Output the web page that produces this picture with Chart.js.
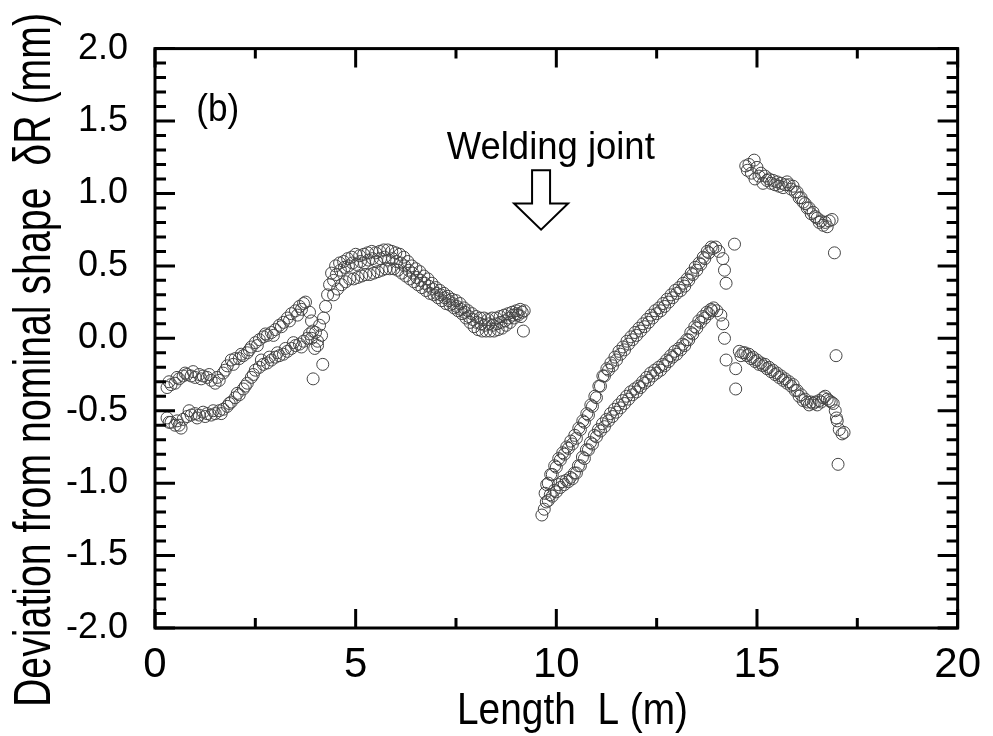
<!DOCTYPE html>
<html>
<head>
<meta charset="utf-8">
<script src="https://cdn.jsdelivr.net/npm/chart.js@4.4.1/dist/chart.umd.min.js"></script>
<style>
  html, body { margin: 0; padding: 0; background: #fff; }
  #wrap { width: 993px; height: 736px; }
</style>
</head>
<body>
<div id="wrap"><canvas id="my-chart" width="993" height="736"></canvas></div>
<script>
'use strict';

// [L (m), deviation (mm)], one list per pass
const beforeWeldUpper = [
  [0.3,-0.34],[0.4,-0.32],[0.5,-0.31],[0.6,-0.28],[0.7,-0.26],[0.8,-0.25],[0.9,-0.26],
  [1.0,-0.27],[1.1,-0.25],[1.2,-0.26],[1.3,-0.27],[1.4,-0.29],[1.5,-0.31],[1.6,-0.29],
  [1.7,-0.24],[1.8,-0.19],[1.9,-0.15],[2.0,-0.14],[2.1,-0.14],[2.2,-0.12],[2.3,-0.10],
  [2.4,-0.06],[2.5,-0.03],[2.6,-0.01],[2.7,0.01],[2.8,0.02],[2.9,0.04],[3.0,0.06],
  [3.1,0.09],[3.2,0.11],[3.3,0.14],[3.4,0.17],[3.5,0.19],[3.6,0.22],[3.7,0.24],[3.75,0.25],
  [3.85,0.18],[3.9,0.12],[3.93,0.05],[3.98,-0.07],[4.05,-0.02],[4.18,-0.18],[3.94,-0.28]
];
const beforeWeldUpper2 = [
  [0.35,-0.30],[0.55,-0.27],[0.75,-0.24],[0.95,-0.23],[1.15,-0.28],[1.35,-0.25],[1.55,-0.27],
  [1.75,-0.22],[1.95,-0.18],[2.15,-0.11],[2.35,-0.08],[2.55,-0.05],[2.75,0.03],[2.95,0.02],
  [3.15,0.08],[3.35,0.12],[3.55,0.16],[3.65,0.20]
];
const beforeWeldLower = [
  [0.3,-0.55],[0.4,-0.58],[0.5,-0.60],[0.6,-0.60],[0.7,-0.56],[0.8,-0.54],[0.9,-0.53],
  [1.0,-0.52],[1.1,-0.53],[1.2,-0.51],[1.3,-0.52],[1.4,-0.53],[1.5,-0.52],[1.6,-0.50],
  [1.7,-0.49],[1.8,-0.47],[1.9,-0.44],[2.0,-0.41],[2.1,-0.39],[2.2,-0.35],[2.3,-0.31],
  [2.4,-0.27],[2.5,-0.22],[2.6,-0.20],[2.7,-0.18],[2.8,-0.17],[2.9,-0.15],[3.0,-0.13],
  [3.1,-0.12],[3.2,-0.11],[3.3,-0.09],[3.4,-0.07],[3.5,-0.05],[3.6,-0.04],[3.7,-0.02],
  [3.8,0.0],[3.9,0.0],[4.0,0.04],[4.1,0.09],[4.2,0.14],[4.25,0.22],[4.3,0.30],[4.35,0.37]
];
const beforeWeldLower2 = [
  [0.35,-0.58],[0.55,-0.57],[0.65,-0.62],[0.85,-0.50],[1.05,-0.55],[1.25,-0.54],[1.45,-0.50],
  [1.65,-0.52],[1.85,-0.45],[2.05,-0.38],[2.25,-0.33],[2.45,-0.25],[2.65,-0.15],[2.85,-0.13],
  [3.05,-0.10],[3.25,-0.07],[3.45,-0.03],[3.65,-0.06],[3.85,0.03],[4.05,-0.05],[4.15,0.02]
];
const humpUpper = [
  [4.4,0.45],[4.5,0.50],[4.6,0.52],[4.7,0.53],[4.8,0.55],[4.9,0.56],[5.0,0.58],[5.1,0.57],
  [5.2,0.58],[5.3,0.59],[5.4,0.60],[5.5,0.59],[5.6,0.60],[5.7,0.61],[5.8,0.61],[5.9,0.60],
  [6.0,0.59],[6.1,0.58],[6.2,0.56],[6.3,0.53],[6.4,0.50],[6.5,0.48],[6.6,0.46],[6.7,0.43],
  [6.8,0.41],[6.9,0.38],[7.0,0.35],[7.1,0.33],[7.2,0.31],[7.3,0.29],[7.4,0.27],[7.5,0.26],
  [7.6,0.24],[7.7,0.21],[7.8,0.19],[7.9,0.17],[8.0,0.15],[8.1,0.14],[8.2,0.14],[8.3,0.13],
  [8.4,0.14],[8.5,0.14],[8.6,0.15],[8.7,0.16],[8.8,0.17],[8.9,0.18],[9.0,0.19],[9.1,0.20],
  [9.2,0.19]
];
const humpMiddle = [
  [4.45,0.40],[4.52,0.44],[4.62,0.47],[4.72,0.49],[4.82,0.50],[4.92,0.52],[5.02,0.51],
  [5.12,0.53],[5.22,0.52],[5.32,0.54],[5.42,0.55],[5.52,0.53],[5.62,0.55],[5.72,0.56],
  [5.82,0.54],[5.92,0.55],[6.02,0.53],[6.12,0.52],[6.22,0.50],[6.32,0.47],[6.42,0.45],
  [6.52,0.42],[6.62,0.40],[6.72,0.38],[6.82,0.36],[6.92,0.34],[7.02,0.31],[7.12,0.30],
  [7.22,0.28],[7.32,0.26],[7.42,0.24],[7.52,0.22],[7.62,0.20],[7.72,0.18],[7.82,0.15],
  [7.92,0.13],[8.02,0.11],[8.12,0.10],[8.22,0.09],[8.32,0.10],[8.42,0.09],[8.52,0.10],
  [8.62,0.11],[8.72,0.12],[8.82,0.14],[8.92,0.16],[9.02,0.17],[9.12,0.15]
];
const humpLower = [
  [4.45,0.30],[4.55,0.34],[4.65,0.37],[4.75,0.39],[4.85,0.41],[4.95,0.41],[5.05,0.42],
  [5.15,0.43],[5.25,0.44],[5.35,0.44],[5.45,0.45],[5.55,0.46],[5.65,0.47],[5.75,0.48],
  [5.85,0.48],[5.95,0.48],[6.05,0.47],[6.15,0.45],[6.25,0.43],[6.35,0.41],[6.45,0.39],
  [6.55,0.37],[6.65,0.35],[6.75,0.33],[6.85,0.31],[6.95,0.30],[7.05,0.28],[7.15,0.26],
  [7.25,0.24],[7.35,0.23],[7.45,0.21],[7.55,0.19],[7.65,0.17],[7.75,0.14],[7.85,0.11],
  [7.95,0.08],[8.05,0.06],[8.15,0.05],[8.25,0.05],[8.35,0.05],[8.45,0.05],[8.55,0.06],
  [8.65,0.07],[8.75,0.09],[8.85,0.11],[8.95,0.14],[9.05,0.16],[9.15,0.18],[9.18,0.05]
];
const afterWeldUpper = [
  [9.72,-1.07],[9.8,-1.00],[9.9,-0.94],[10.0,-0.89],[10.1,-0.84],[10.2,-0.80],[10.3,-0.76],
  [10.4,-0.73],[10.5,-0.69],[10.6,-0.63],[10.7,-0.58],[10.8,-0.53],[10.9,-0.47],[11.0,-0.41],
  [11.1,-0.33],[11.2,-0.26],[11.3,-0.22],[11.4,-0.19],[11.5,-0.15],[11.6,-0.11],[11.7,-0.08],
  [11.8,-0.04],[11.9,-0.01],[12.0,0.02],[12.1,0.05],[12.2,0.08],[12.3,0.11],[12.4,0.14],
  [12.5,0.17],[12.6,0.19],[12.7,0.22],[12.8,0.25],[12.9,0.28],[13.0,0.31],[13.1,0.33],
  [13.2,0.36],[13.3,0.40],[13.4,0.44],[13.5,0.47],[13.6,0.51],[13.7,0.55],[13.8,0.59],
  [13.9,0.62],[13.97,0.63],[14.05,0.60],[14.15,0.55],[14.19,0.47],[14.23,0.38],[14.44,0.65]
];
const afterWeldUpper2 = [
  [9.76,-1.01],[9.86,-0.94],[9.96,-0.88],[10.06,-0.83],[10.16,-0.79],[10.26,-0.75],
  [10.36,-0.71],[10.46,-0.67],[10.56,-0.62],[10.66,-0.57],[10.76,-0.52],[10.86,-0.46],
  [10.96,-0.40],[11.06,-0.33],[11.16,-0.26],[11.26,-0.21],[11.36,-0.17],[11.46,-0.13],
  [11.56,-0.09],[11.66,-0.06],[11.76,-0.02],[11.86,0.01],[11.96,0.04],[12.06,0.07],
  [12.16,0.10],[12.26,0.13],[12.36,0.16],[12.46,0.19],[12.56,0.21],[12.66,0.24],[12.76,0.27],
  [12.86,0.30],[12.96,0.33],[13.06,0.35],[13.16,0.38],[13.26,0.41],[13.36,0.45],[13.46,0.49],
  [13.56,0.52],[13.66,0.56],[13.76,0.60],[13.86,0.63]
];
const afterWeldLower = [
  [9.64,-1.22],[9.75,-1.13],[9.85,-1.08],[9.95,-1.05],[10.05,-1.01],[10.15,-0.99],[10.25,-0.98],
  [10.35,-0.96],[10.45,-0.93],[10.55,-0.88],[10.65,-0.82],[10.75,-0.77],[10.85,-0.72],
  [10.95,-0.67],[11.05,-0.63],[11.15,-0.59],[11.25,-0.56],[11.35,-0.52],[11.45,-0.49],
  [11.55,-0.46],[11.65,-0.43],[11.75,-0.40],[11.85,-0.37],[11.95,-0.35],[12.05,-0.33],
  [12.15,-0.30],[12.25,-0.27],[12.35,-0.24],[12.45,-0.22],[12.55,-0.20],[12.65,-0.18],
  [12.75,-0.15],[12.85,-0.12],[12.95,-0.09],[13.05,-0.07],[13.15,-0.04],[13.25,-0.01],
  [13.35,0.04],[13.45,0.08],[13.55,0.12],[13.65,0.15],[13.75,0.18],[13.85,0.20],[13.92,0.21],
  [14.0,0.19],[14.1,0.16],[14.15,0.10],[14.19,0.0],[14.23,-0.15],[14.47,-0.21],[14.47,-0.35]
];
const afterWeldLower2 = [
  [9.70,-1.18],[9.80,-1.12],[9.90,-1.09],[10.00,-1.06],[10.10,-1.03],[10.20,-1.01],
  [10.30,-0.99],[10.40,-0.97],[10.50,-0.93],[10.60,-0.88],[10.70,-0.83],[10.80,-0.77],
  [10.90,-0.73],[11.00,-0.68],[11.10,-0.64],[11.20,-0.61],[11.30,-0.57],[11.40,-0.54],
  [11.50,-0.51],[11.60,-0.48],[11.70,-0.45],[11.80,-0.42],[11.90,-0.39],[12.00,-0.37],
  [12.10,-0.34],[12.20,-0.31],[12.30,-0.29],[12.40,-0.26],[12.50,-0.24],[12.60,-0.22],
  [12.70,-0.19],[12.80,-0.16],[12.90,-0.13],[13.00,-0.11],[13.10,-0.08],[13.20,-0.05],
  [13.30,-0.01],[13.40,0.03],[13.50,0.07],[13.60,0.11],[13.70,0.14],[13.80,0.17],[13.88,0.19]
];
const tailUpper = [
  [14.72,1.19],[14.8,1.20],[14.93,1.23],[14.95,1.10],[15.0,1.18],[15.1,1.14],[15.15,1.07],
  [15.2,1.12],[15.3,1.10],[15.4,1.09],[15.5,1.08],[15.6,1.07],[15.7,1.06],[15.8,1.06],
  [15.9,1.05],[16.0,1.01],[16.1,0.97],[16.2,0.93],[16.3,0.90],[16.4,0.87],[16.5,0.83],
  [16.6,0.81],[16.7,0.80],[16.8,0.81],[16.87,0.82],[16.93,0.59],[16.97,-0.12]
];
const tailUpper2 = [
  [14.76,1.16],[14.86,1.14],[15.05,1.12],[15.25,1.09],[15.35,1.07],[15.45,1.06],[15.55,1.05],
  [15.65,1.04],[15.75,1.08],[15.85,1.03],[15.95,1.01],[16.05,0.97],[16.15,0.94],[16.25,0.90],
  [16.35,0.86],[16.45,0.84],[16.55,0.80],[16.65,0.78],[16.75,0.77]
];
const tailLower = [
  [14.56,-0.09],[14.65,-0.10],[14.75,-0.12],[14.85,-0.14],[14.95,-0.16],[15.05,-0.18],
  [15.15,-0.19],[15.25,-0.21],[15.35,-0.23],[15.45,-0.25],[15.55,-0.27],[15.65,-0.29],
  [15.75,-0.31],[15.85,-0.33],[15.95,-0.36],[16.05,-0.40],[16.15,-0.43],[16.25,-0.44],
  [16.35,-0.44],[16.45,-0.44],[16.55,-0.43],[16.65,-0.41],[16.75,-0.42],[16.85,-0.44],
  [16.95,-0.50],[17.0,-0.57],[17.05,-0.63],[17.12,-0.66],[17.17,-0.65],[17.02,-0.87]
];
const tailLower2 = [
  [14.6,-0.12],[14.7,-0.10],[14.8,-0.11],[14.9,-0.13],[15.0,-0.15],[15.1,-0.17],[15.2,-0.18],
  [15.3,-0.20],[15.4,-0.22],[15.5,-0.24],[15.6,-0.26],[15.7,-0.28],[15.8,-0.30],[15.9,-0.32],
  [16.0,-0.36],[16.1,-0.39],[16.2,-0.42],[16.3,-0.46],[16.4,-0.45],[16.5,-0.46],[16.6,-0.44],
  [16.7,-0.40],[16.8,-0.43],[16.9,-0.45],[16.98,-0.55]
];

const xTicks = [0, 5, 10, 15, 20];
const yTicks = [-2.0, -1.5, -1.0, -0.5, 0.0, 0.5, 1.0, 1.5, 2.0];
const xTitle = 'Length  L (m)';
const yTitle = 'Deviation from nominal shape  \u03b4R (mm)';
const panelLabel = '(b)';
const weldLabel = 'Welding joint';
const weldPosition = 9.62; // m

const allPasses = [
  beforeWeldUpper, beforeWeldUpper2, beforeWeldLower, beforeWeldLower2,
  humpUpper, humpMiddle, humpLower,
  afterWeldUpper, afterWeldUpper2, afterWeldLower, afterWeldLower2,
  tailUpper, tailUpper2, tailLower, tailLower2
];

// draw text squeezed to a given length (the figure uses a condensed face)
function drawSqueezed(ctx, text, x, y, size, length, vertical) {
  ctx.save();
  ctx.font = size + 'px "Liberation Sans", Arial, sans-serif';
  let w = ctx.measureText(text).width;
  ctx.translate(x, y);
  if (vertical) {
    ctx.rotate(-Math.PI / 2);
  }
  ctx.scale(length / w, 1);
  ctx.fillStyle = '#000';
  ctx.textAlign = 'left';
  ctx.textBaseline = 'alphabetic';
  ctx.fillText(text, 0, 0);
  ctx.restore();
}

// frame, inward ticks on all four sides, titles and the weld arrow
const framePlugin = {
  id: 'frame',
  afterDatasetsDraw(chart) {
    const ctx = chart.ctx;
    const area = chart.chartArea;
    const xs = chart.scales.x;
    const ys = chart.scales.y;

    ctx.save();
    ctx.strokeStyle = '#000';
    ctx.lineWidth = 3;
    ctx.lineCap = 'butt';
    ctx.beginPath();
    for (let i = -20; i <= 20; i++) {
      let py = ys.getPixelForValue(i / 10);
      let len = (i % 5 === 0) ? 20 : 11;
      ctx.moveTo(area.left, py);
      ctx.lineTo(area.left + len, py);
      ctx.moveTo(area.right, py);
      ctx.lineTo(area.right - len, py);
    }
    for (let i = 0; i <= 8; i++) {
      let px = xs.getPixelForValue(i * 2.5);
      let len = (i % 2 === 0) ? 19 : 10;
      ctx.moveTo(px, area.bottom);
      ctx.lineTo(px, area.bottom - len);
      ctx.moveTo(px, area.top);
      ctx.lineTo(px, area.top + len);
    }
    ctx.stroke();
    ctx.strokeRect(area.left, area.top, area.right - area.left, area.bottom - area.top);

    // hollow arrow pointing at the weld
    let ax = xs.getPixelForValue(weldPosition);
    let shaftTop = ys.getPixelForValue(1.16);
    let headBase = ys.getPixelForValue(0.93);
    let tip = ys.getPixelForValue(0.75);
    ctx.lineWidth = 2;
    ctx.lineJoin = 'miter';
    ctx.beginPath();
    ctx.moveTo(ax - 9, shaftTop);
    ctx.lineTo(ax + 9, shaftTop);
    ctx.lineTo(ax + 9, headBase);
    ctx.lineTo(ax + 27, headBase);
    ctx.lineTo(ax, tip);
    ctx.lineTo(ax - 27, headBase);
    ctx.lineTo(ax - 9, headBase);
    ctx.closePath();
    ctx.stroke();
    ctx.restore();

    drawSqueezed(ctx, weldLabel, xs.getPixelForValue(7.27), ys.getPixelForValue(1.24), 38, 208, false);
    drawSqueezed(ctx, panelLabel, xs.getPixelForValue(1.03), ys.getPixelForValue(1.5), 38, 43, false);
    drawSqueezed(ctx, xTitle, 457, 724, 44, 231, false);
    drawSqueezed(ctx, yTitle, 50, 707, 52, 694, true);
  }
};

let points = [];
for (let i = 0; i < allPasses.length; i++) {
  let pass = allPasses[i];
  for (let j = 0; j < pass.length; j++) {
    points.push({ x: pass[j][0], y: pass[j][1] });
  }
}

let chartEl = document.getElementById('my-chart');
let ctx = chartEl.getContext('2d');

let shapeChart = new Chart(ctx, {
  type: 'scatter',
  data: {
    datasets: [{
      label: 'deviation',
      data: points,
      pointStyle: 'circle',
      pointRadius: 6,
      pointBorderWidth: 1,
      borderColor: '#444',
      backgroundColor: 'rgba(255,255,255,0)',
    }],
  },
  options: {
    responsive: false,
    devicePixelRatio: 1,
    animation: false,
    events: [],
    layout: { padding: { top: 34, right: 25, left: 0, bottom: 0 } },
    plugins: {
      legend: { display: false },
      tooltip: { enabled: false },
    },
    scales: {
      x: {
        type: 'linear',
        min: 0,
        max: 20,
        afterBuildTicks: (scale) => { scale.ticks = xTicks.map(v => ({ value: v })); },
        afterFit: (scale) => { scale.height = 108; },
        grid: { display: false, drawTicks: false },
        border: { display: false },
        ticks: {
          autoSkip: false,
          maxRotation: 0,
          padding: 12,
          color: '#000',
          font: { family: '"Liberation Sans", Arial, sans-serif', size: 42 },
          callback: (v) => String(v),
        },
      },
      y: {
        type: 'linear',
        min: -2,
        max: 2,
        afterBuildTicks: (scale) => { scale.ticks = yTicks.map(v => ({ value: v })); },
        afterFit: (scale) => { scale.width = 155; },
        grid: { display: false, drawTicks: false },
        border: { display: false },
        ticks: {
          autoSkip: false,
          padding: 27,
          color: '#000',
          font: { family: '"Liberation Sans", Arial, sans-serif', size: 36 },
          callback: (v) => Number(v).toFixed(1),
        },
      },
    },
  },
  plugins: [framePlugin],
});
</script>
</body>
</html>
